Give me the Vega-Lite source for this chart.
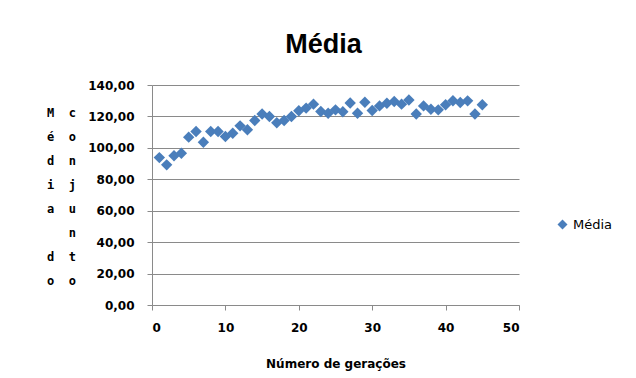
{
  "$schema": "https://vega.github.io/schema/vega-lite/v6.json",
  "width": 367,
  "height": 220,
  "autosize": {"type": "none"},
  "padding": {"left": 152, "top": 85, "right": 117, "bottom": 73},
  "background": "white",
  "title": {"text": "Média", "font": "Liberation Sans", "fontSize": 27, "fontWeight": "bold", "color": "black", "anchor": "middle", "frame": "group", "dx": -12, "baseline": "alphabetic", "offset": -1},
  "data": {"values": [
    {"g": 1, "m": 93.8}, {"g": 2, "m": 89.2}, {"g": 3, "m": 95.0}, {"g": 4, "m": 96.6}, {"g": 5, "m": 106.8},
    {"g": 6, "m": 110.4}, {"g": 7, "m": 103.6}, {"g": 8, "m": 110.4}, {"g": 9, "m": 110.4}, {"g": 10, "m": 107.2},
    {"g": 11, "m": 109.3}, {"g": 12, "m": 114.0}, {"g": 13, "m": 111.5}, {"g": 14, "m": 117.4}, {"g": 15, "m": 121.5},
    {"g": 16, "m": 120.0}, {"g": 17, "m": 116.0}, {"g": 18, "m": 117.4}, {"g": 19, "m": 120.0}, {"g": 20, "m": 123.6},
    {"g": 21, "m": 125.3}, {"g": 22, "m": 127.8}, {"g": 23, "m": 123.1}, {"g": 24, "m": 122.0}, {"g": 25, "m": 124.2},
    {"g": 26, "m": 123.0}, {"g": 27, "m": 128.5}, {"g": 28, "m": 122.0}, {"g": 29, "m": 129.0}, {"g": 30, "m": 123.8},
    {"g": 31, "m": 126.7}, {"g": 32, "m": 128.4}, {"g": 33, "m": 129.5}, {"g": 34, "m": 127.8}, {"g": 35, "m": 130.5},
    {"g": 36, "m": 121.5}, {"g": 37, "m": 126.7}, {"g": 38, "m": 124.6}, {"g": 39, "m": 124.2}, {"g": 40, "m": 127.4},
    {"g": 41, "m": 130.0}, {"g": 42, "m": 128.9}, {"g": 43, "m": 129.9}, {"g": 44, "m": 121.5}, {"g": 45, "m": 127.4}
  ]},
  "mark": {"type": "point", "shape": "diamond", "filled": true, "size": 130, "opacity": 1},
  "encoding": {
    "x": {
      "field": "g", "type": "quantitative",
      "scale": {"domain": [0, 50], "nice": false, "zero": true},
      "axis": {
        "title": "Número de gerações", "values": [0, 10, 20, 30, 40, 50], "grid": false,
        "titleFont": "DejaVu Sans", "titleFontSize": 12, "titleFontWeight": "bold", "titleColor": "black", "titlePadding": 25,
        "labelFont": "DejaVu Sans", "labelFontSize": 12, "labelFontWeight": "bold", "labelColor": "black", "labelPadding": 12,
        "tickSize": 5, "tickColor": "#8a8a8a", "domainColor": "#8a8a8a"
      }
    },
    "y": {
      "field": "m", "type": "quantitative",
      "scale": {"domain": [0, 140], "nice": false},
      "axis": {
        "title": ["M\u00a0\u00a0c", "é\u00a0\u00a0o", "d\u00a0\u00a0n", "i\u00a0\u00a0j", "a\u00a0\u00a0u", "\u200b\u00a0\u00a0\u00a0n", "d\u00a0\u00a0t", "o\u00a0\u00a0o"],
        "titleAngle": 0, "titleAlign": "center", "titleBaseline": "alphabetic", "titleX": -91, "titleY": 31,
        "titleFont": "DejaVu Sans Mono", "titleFontSize": 12, "titleFontWeight": "bold", "titleColor": "black", "titleLineHeight": 24,
        "values": [0, 20, 40, 60, 80, 100, 120, 140],
        "labelExpr": "replace(format(datum.value, '.2f'), '.', ',')",
        "labelFont": "DejaVu Sans", "labelFontSize": 12, "labelFontWeight": "bold", "labelColor": "black", "labelPadding": 13,
        "tickSize": 5, "tickColor": "#8a8a8a", "domainColor": "#8a8a8a", "grid": true, "gridColor": "#8a8a8a"
      }
    },
    "color": {
      "datum": "Média",
      "scale": {"range": ["#4A7EBB"]},
      "legend": {"orient": "none", "legendX": 404, "legendY": 133, "title": null, "padding": 0,
        "symbolType": "diamond", "symbolSize": 100, "symbolStrokeWidth": 0,
        "labelFont": "DejaVu Sans", "labelFontSize": 13, "labelColor": "black", "labelOffset": 4}
    }
  },
  "config": {"view": {"stroke": null}}
}
